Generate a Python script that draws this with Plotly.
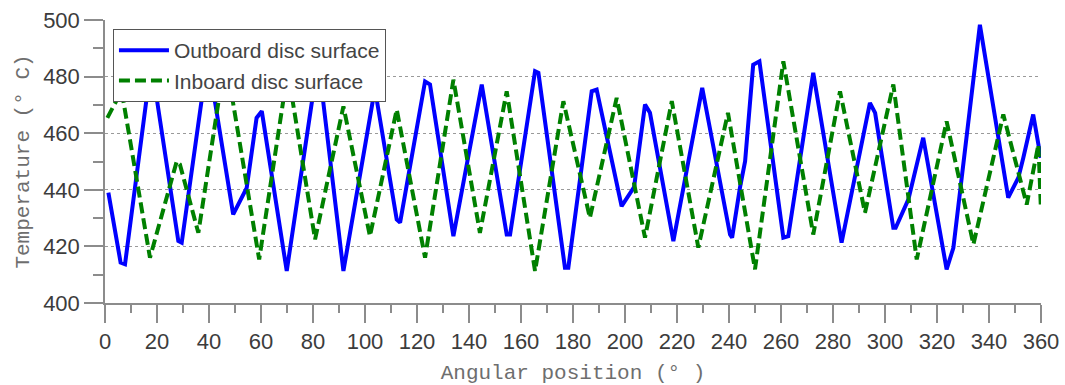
import plotly.graph_objects as go

# Outboard disc surface (blue, solid): angular position (deg) and temperature (deg C)
outboard_angle = [1.3, 6.0, 7.7, 17.8, 28.2, 29.5, 39.5, 49.3, 54.5, 58.3, 60.3, 69.9, 82.0, 91.7,
                  103.2, 104.5, 112.2, 113.5, 123.1, 125.0, 134.0, 144.9, 154.5, 155.8, 165.4, 166.7,
                  176.9, 178.2, 187.2, 189.1, 198.7, 203.5, 207.7, 209.6, 218.6, 229.7, 240.4, 241.2,
                  244.2, 246.2, 249.3, 251.7, 260.9, 262.8, 272.4, 283.3, 294.2, 296.2, 298.7, 303.2,
                  304.1, 309.0, 314.7, 323.7, 326.3, 336.5, 347.4, 351.3, 353.2, 357.0, 359.9]
outboard_temp = [439.0, 414.3, 413.7, 485.0, 421.9, 421.3, 487.0, 431.3, 440.7, 465.4, 467.8, 411.3, 486.0, 411.3,
                 472.5, 471.9, 429.5, 428.4, 478.3, 477.2, 423.6, 477.2, 424.2, 424.2, 481.9, 481.3,
                 412.5, 412.5, 474.8, 475.4, 434.2, 441.0, 470.1, 467.2, 421.9, 476.0, 424.2, 423.1,
                 440.7, 450.1, 484.2, 485.4, 423.1, 423.6, 481.3, 421.3, 470.7, 467.2, 452.5, 426.6,
                 426.6, 436.6, 458.4, 411.9, 419.5, 498.3, 437.2, 444.3, 451.3, 466.6, 451.3]

# Inboard disc surface (green, dashed)
inboard_angle = [0.9, 6.4, 17.3, 27.6, 28.8, 35.9, 46.3, 59.3, 70.3, 80.8, 91.7, 101.9, 112.2, 123.1,
                 134.0, 144.2, 154.5, 165.4, 176.3, 186.5, 196.8, 207.7, 218.0, 228.2, 239.6, 250.0,
                 260.9, 272.4, 282.7, 292.3, 303.2, 312.2, 323.7, 334.0, 345.5, 354.5, 359.0, 359.9]
inboard_temp = [465.4, 475.0, 416.0, 450.1, 449.0, 424.8, 487.0, 415.4, 482.0, 422.5, 469.5, 423.6, 468.4, 416.0,
                478.9, 424.8, 474.8, 411.3, 471.3, 430.1, 472.5, 423.1, 471.3, 419.6, 467.2, 411.9,
                485.4, 424.2, 474.8, 431.9, 477.2, 415.4, 464.2, 420.7, 466.6, 434.8, 456.0, 434.8]

x_ticks = list(range(0, 361, 20))
y_ticks = [400, 420, 440, 460, 480, 500]

fig = go.Figure()
fig.add_trace(go.Scatter(x=outboard_angle, y=outboard_temp, mode="lines",
                         name="Outboard disc surface",
                         line=dict(color="#0000FF", width=4)))
fig.add_trace(go.Scatter(x=inboard_angle, y=inboard_temp, mode="lines",
                         name="Inboard disc surface",
                         line=dict(color="#008000", width=4, dash="11px,5px")))

axis_col = "#8c8c8c"
tick_font = dict(family="Liberation Sans, Arial, sans-serif", size=22, color="#3c3c3c")
title_font = dict(family="Liberation Mono, DejaVu Sans Mono, monospace", size=21, color="#6e6e6e")

fig.update_layout(
    width=1065, height=385,
    margin=dict(l=105, r=24, t=20, b=82, autoexpand=False),
    paper_bgcolor="white", plot_bgcolor="white",
    showlegend=True,
    legend=dict(x=0.0085, y=0.968, xanchor="left", yanchor="top",
                bgcolor="white", bordercolor="#555555", borderwidth=1,
                font=dict(family="Liberation Sans, Arial, sans-serif", size=21, color="#444444"),
                itemwidth=50, tracegroupgap=0),
    xaxis=dict(range=[0, 360], tickmode="array", tickvals=x_ticks,
               ticktext=[str(v) for v in x_ticks],
               showgrid=False, zeroline=False,
               showline=True, linecolor=axis_col, linewidth=1.5,
               ticks="outside", ticklen=18, tickcolor=axis_col, tickwidth=1.5,
               tickfont=tick_font,
               minor=dict(dtick=10, ticks="outside", ticklen=8, tickcolor=axis_col, tickwidth=1.5, showgrid=False),
               title=dict(text="Angular position (° )", font=title_font, standoff=12),
               automargin=False),
    yaxis=dict(range=[400, 500], tickmode="array", tickvals=y_ticks,
               ticktext=[str(v) for v in y_ticks],
               showgrid=True, gridcolor="#9a9a9a", griddash="dot", gridwidth=1,
               zeroline=False,
               showline=True, linecolor=axis_col, linewidth=1.5,
               ticks="outside", ticklen=19, tickcolor=axis_col, tickwidth=1.5,
               tickfont=tick_font,
               minor=dict(dtick=10, ticks="outside", ticklen=10, tickcolor=axis_col, tickwidth=1.5, showgrid=False),
               title=dict(text="Temperature (° C)", font=title_font, standoff=8),
               automargin=False),
)

fig.write_html("out.html")
